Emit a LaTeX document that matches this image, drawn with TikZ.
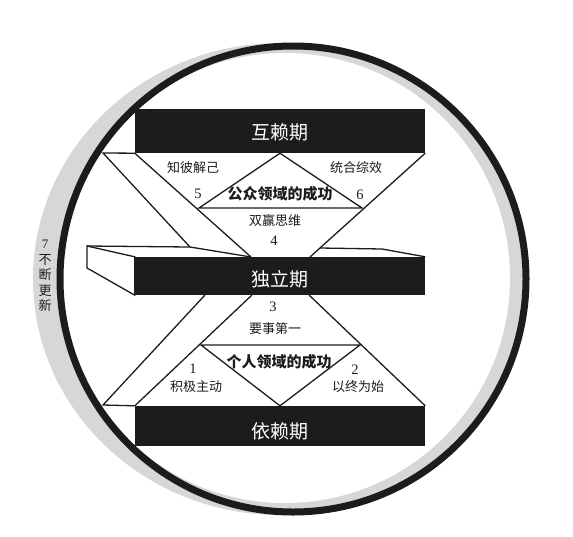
\documentclass[tikz,border=0pt]{standalone}
\usepackage{fontspec}
\setmainfont{Liberation Serif}
\newfontfamily\cjk{Noto Sans CJK SC}
\usetikzlibrary{calc,backgrounds}
\definecolor{ink}{HTML}{1C1C1C}
\definecolor{halo}{HTML}{D7D7D7}
\tikzset{
  bar/.style={fill=ink,draw=none,minimum width=290pt,inner sep=0pt},
  barlbl/.style={text=white,font=\cjk\fontsize{19}{19}\selectfont,inner sep=0pt},
  edge/.style={draw=ink,line width=1.3pt,line join=miter},
  lbl/.style={text=ink,font=\cjk\fontsize{13}{13}\selectfont,inner sep=0pt},
  num/.style={text=ink,font=\fontsize{14.5}{14.5}\selectfont,inner sep=0pt},
  ttl/.style={text=ink,font=\cjk\bfseries\fontsize{15}{15}\selectfont,inner sep=0pt},
}

\begin{document}
\begin{tikzpicture}[x=1pt,y=-1pt]
  \useasboundingbox (0,0) rectangle (573,536);
  % the three stages
  \node[bar,minimum height=44pt] (inter) at (280,131) {};
  \node[bar,minimum height=38pt] (indep) at (280,276) {};
  \node[bar,minimum height=40pt] (dep) at (280,426) {};
  \node[barlbl] at (280,132) {互赖期};
  \node[barlbl] at (280,279) {独立期};
  \node[barlbl] at (280,431) {依赖期};

  \coordinate (sTop) at (103,153);
  \coordinate (sFoot) at (190,247);
  \coordinate (mL) at (251,257);
  \coordinate (mR) at (310,257);
  \coordinate (baseUL) at (199,208);
  \coordinate (baseUR) at (362,208);
  \coordinate (boxT) at (87,246);
  \coordinate (boxB) at (87,268);
  \coordinate (backR0) at (320,248);
  \coordinate (backR) at (382,249);
  \coordinate (lsTop) at (205,295);
  \coordinate (lsFoot) at (103,405);
  \coordinate (mbL) at (252,295);
  \coordinate (mbR) at (309,295);
  \coordinate (baseLL) at (201,345);
  \coordinate (baseLR) at (360,345);

  \begin{scope}[on background layer]
    % grey halo and ring
    \fill[halo] (280,279) ellipse (247 and 236);
    \fill[white] (285,278) circle (225);
    \draw[ink,line width=7pt] (293,279) circle (233);
    % upper funnel
    \draw[edge] (inter.south west) -- (mL);
    \draw[edge] (inter.south east) -- (mR);
    \draw[edge] (baseUL) -- (inter.south) -- (baseUR) -- cycle;
    \draw[edge] (inter.south west) -- (sTop) -- (sFoot) -- (mL);
    % end of the middle board
    \draw[edge,fill=white] (boxT) -- (indep.north west) -- (indep.south west) -- (boxB) -- cycle;
    \draw[edge] (boxT) -- (sFoot);
    \draw[edge] (backR0) -- (backR) -- (indep.north east);
    % lower funnel
    \draw[edge] (mbL) -- (dep.north west) -- (lsFoot) -- (lsTop);
    \draw[edge] (mbR) -- (dep.north east);
    \draw[edge] (baseLL) -- (dep.north) -- (baseLR) -- cycle;
  \end{scope}

  \node[lbl] at (193,168) {知彼解己};
  \node[lbl] at (356,168) {统合综效};
  \node[num] at (198,194) {5};
  \node[num] at (360,195) {6};
  \node[ttl] at (280,194) {公众领域的成功};
  \node[lbl] at (275,221) {双赢思维};
  \node[num] at (274,241) {4};
  \node[num] at (273,307) {3};
  \node[lbl] at (275,329) {要事第一};
  \node[ttl] at (279,362) {个人领域的成功};
  \node[num] at (193,369) {1};
  \node[lbl] at (196,387) {积极主动};
  \node[num] at (355,370) {2};
  \node[lbl] at (358,387) {以终为始};
  \node[lbl,align=center,font=\cjk\fontsize{13}{15.5}\selectfont] at (45,276) {{\rmfamily 7}\\不\\断\\更\\新};
\end{tikzpicture}
\end{document}
